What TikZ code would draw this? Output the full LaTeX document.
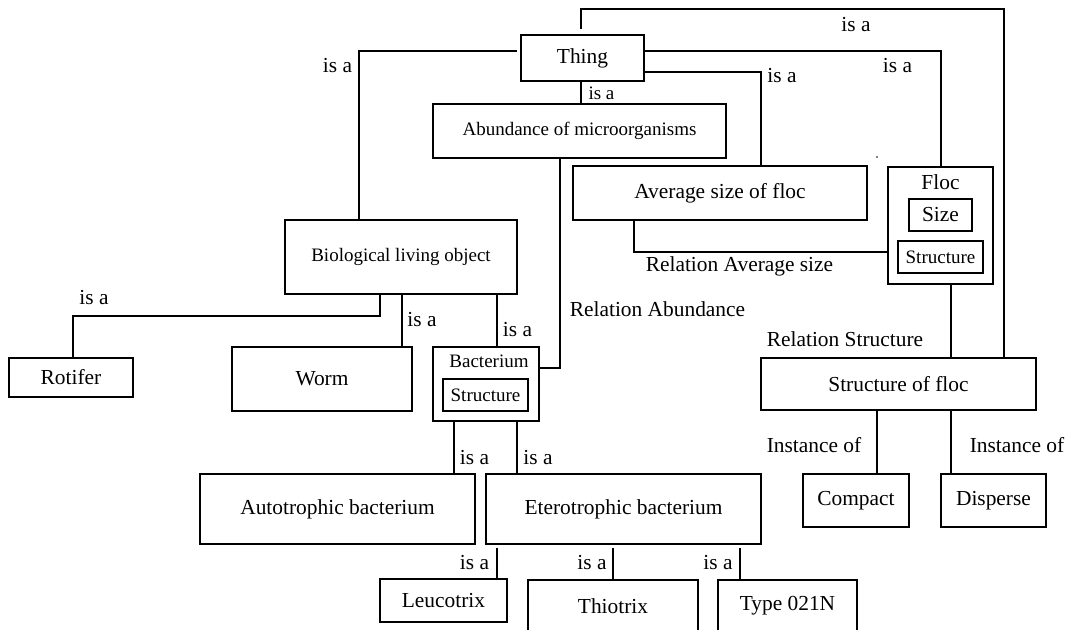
\documentclass[tikz,border=0pt]{standalone}
\usepackage{fontspec}
\setmainfont{Liberation Serif}
\newcommand\fmain{\fontsize{10.7}{12}\selectfont}
\newcommand\fsmall{\fontsize{9.5}{11}\selectfont}
\begin{document}
\begin{tikzpicture}[x=0.5pt,y=-0.5pt,
  box/.style={draw, line width=0.55pt, inner sep=0pt, outer sep=0pt, font=\fmain},
  lbl/.style={anchor=base, inner sep=0pt, outer sep=0pt, font=\fmain},
  conn/.style={draw, line width=0.55pt}]
\useasboundingbox (0,0) rectangle (1072,630);
\clip (0,0) rectangle (1072,630);

% boxes
\node[box, minimum width=61.5pt, minimum height=23pt] (thing) at (582.5,58) {Thing};
\node[box, font=\fsmall, minimum width=146.5pt, minimum height=27pt] (abund) at (579.5,131) {Abundance of microorganisms};
\node[box, minimum width=147pt, minimum height=27pt] (avg) at (720,193) {Average size of floc};
\node[box, minimum width=52.5pt, minimum height=58.5pt] (floc) at (940.5,225.5) {};
\node[lbl] (floclbl) at (940.5,190) {Floc};
\node[box, minimum width=31.5pt, minimum height=16pt] (flocsize) at (940.5,215) {Size};
\node[box, font=\fsmall, minimum width=42.5pt, minimum height=16pt] (flocstruct) at (940.5,257) {Structure};
\node[box, font=\fsmall, minimum width=116pt, minimum height=37pt] (bio) at (401,257) {Biological living object};
\node[box, minimum width=62pt, minimum height=19.5pt] (rotifer) at (71,377.5) {Rotifer};
\node[box, minimum width=90pt, minimum height=32pt] (worm) at (322,379) {Worm};
\node[box, minimum width=53pt, minimum height=37pt] (bact) at (486,384) {};
\node[lbl, font=\fsmall] (bactlbl) at (489,368) {Bacterium};
\node[box, font=\fsmall, minimum width=42.5pt, minimum height=16pt] (bactstruct) at (485.5,395) {Structure};
\node[box, minimum width=137.5pt, minimum height=35pt] (auto) at (337.5,509) {Autotrophic bacterium};
\node[box, minimum width=137.5pt, minimum height=35pt] (etero) at (623.5,509) {Eterotrophic bacterium};
\node[box, minimum width=63.5pt, minimum height=21.5pt] (leuco) at (443.5,600.5) {Leucotrix};
\node[box, minimum width=85pt, minimum height=26pt] (thio) at (613,606) {Thiotrix};
\node[box, minimum width=69.5pt, minimum height=26pt] (type) at (787.5,606) {Type 021N};
\node[box, minimum width=137.5pt, minimum height=26pt] (sof) at (898.5,384) {Structure of floc};
\node[box, minimum width=53pt, minimum height=26.5pt] (compact) at (856,500.5) {Compact};
\node[box, minimum width=52.5pt, minimum height=26.5pt] (disperse) at (993.5,500.5) {Disperse};

% connectors
\draw[conn, shorten <=3pt] (thing.north -| 581,0) -- (581,9) -| (sof.north -| 1004,0);
\draw[conn, shorten <=2pt] (thing.west |- 0,51) -| (bio.north -| 359,0);
\draw[conn] (thing.east |- 0,51) -| (floc.north -| 941,0);
\draw[conn] (thing.east |- 0,72) -| (avg.north -| 761,0);
\draw[conn] (thing.south -| 581,0) -- (abund.north -| 581,0);
\draw[conn] (abund.south -| 560,0) |- (bact.east |- 0,368);
\draw[conn] (avg.south -| 634,0) |- (floc.west |- 0,252);
\draw[conn] (floc.south -| 951,0) -- (sof.north -| 951,0);
\draw[conn] (sof.south -| 877,0) -- (compact.north -| 877,0);
\draw[conn] (sof.south -| 951,0) -- (disperse.north -| 951,0);
\draw[conn] (bio.south -| 380,0) -- (380,316) -| (rotifer.north -| 73,0);
\draw[conn] (bio.south -| 402,0) -- (worm.north -| 402,0);
\draw[conn] (bio.south -| 497,0) -- (bact.north -| 497,0);
\draw[conn] (bact.south -| 454,0) -- (auto.north -| 454,0);
\draw[conn] (bact.south -| 517,0) -- (etero.north -| 517,0);
\draw[conn, shorten <=2pt] (etero.south -| 497,0) -- (leuco.north -| 497,0);
\draw[conn, shorten <=2pt] (etero.south -| 613,0) -- (thio.north -| 613,0);
\draw[conn, shorten <=2pt] (etero.south -| 740,0) -- (type.north -| 740,0);

% labels
\node[lbl] (l1) at (337.5,73) {is a};
\node[lbl] (l2) at (856,32) {is a};
\node[lbl] (l3) at (897.5,73) {is a};
\node[lbl] (l4) at (782,83) {is a};
\node[lbl, font=\fsmall] (l5) at (601.5,100) {is a};
\node[lbl] (l6) at (94,305) {is a};
\node[lbl] (l7) at (422,327) {is a};
\node[lbl] (l8) at (517.5,337) {is a};
\node[lbl] (l9) at (474.5,465) {is a};
\node[lbl] (l10) at (538,465) {is a};
\node[lbl] (l11) at (474.5,570) {is a};
\node[lbl] (l12) at (592,570) {is a};
\node[lbl] (l13) at (718,570) {is a};
\node[lbl] (r1) at (657.5,317) {Relation Abundance};
\node[lbl] (r2) at (739.5,272) {Relation Average size};
\node[lbl] (r3) at (845,347) {Relation Structure};
\node[lbl] (i1) at (814,453) {Instance of};
\node[lbl] (i2) at (1017,453) {Instance of};
\fill (877,157) circle (0.4pt);
\end{tikzpicture}
\end{document}
